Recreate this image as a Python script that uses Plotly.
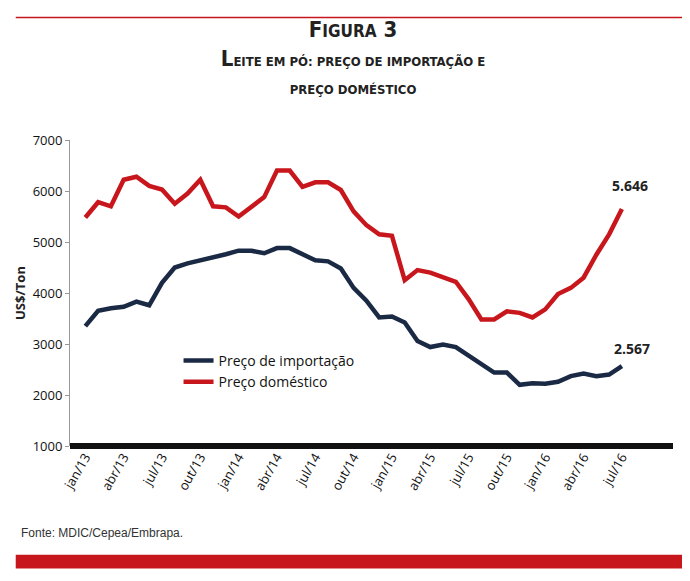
import plotly.graph_objects as go

# monthly series jan/13 .. jul/16
meses = ["jan", "fev", "mar", "abr", "mai", "jun", "jul", "ago", "set", "out", "nov", "dez"]
periodos = [f"{m}/{a}" for a in ["13", "14", "15", "16"] for m in meses][:43]

preco_importacao = [3350, 3650, 3700, 3730, 3830, 3760, 4200, 4500, 4580, 4640, 4680, 4760,
                    4830, 4830, 4780, 4880, 4880, 4760, 4640, 4620, 4480, 4100, 3850, 3520,
                    3540, 3420, 3060, 2940, 2990, 2940, 2780, 2620, 2440, 2440, 2200, 2230,
                    2220, 2260, 2370, 2420, 2370, 2400, 2567]
preco_domestico = [5480, 5780, 5700, 6220, 6280, 6100, 6030, 5750, 5950, 6220, 5700, 5680,
                   5500, 5680, 5880, 6400, 6400, 6080, 6170, 6170, 6020, 5600, 5330, 5150,
                   5120, 4250, 4450, 4400, 4320, 4220, 3880, 3480, 3480, 3640, 3610, 3520,
                   3680, 3980, 4100, 4300, 4750, 5150, 5646]
rotulos = periodos[::3]

fig = go.Figure()
fig.add_trace(go.Scatter(x=periodos, y=preco_importacao, mode="lines", name="Preço de importação",
                         line=dict(color="#1b2a44", width=4.5)))
fig.add_trace(go.Scatter(x=periodos, y=preco_domestico, mode="lines", name="Preço doméstico",
                         line=dict(color="#c8161d", width=4.5)))

fig.update_layout(
    width=690, height=581,
    paper_bgcolor="white", plot_bgcolor="white",
    margin=dict(l=62, r=25, t=132, b=143),
    font=dict(family="Open Sans", color="#222"),
    showlegend=True,
    legend=dict(x=0.18, y=0.33, xanchor="left", yanchor="top", font=dict(size=14, color="#111"),
                bgcolor="rgba(0,0,0,0)", tracegroupgap=8),
    title=dict(text="<b>F<span style='font-size:17px'>IGURA</span> 3</b><br>"
                    "<b>L<span style='font-size:13px'>EITE EM PÓ: PREÇO DE IMPORTAÇÃO E</span></b><br>"
                    "<b><span style='font-size:13px'>PREÇO DOMÉSTICO</span></b>",
               x=0.5, xanchor="center", y=0.95, yanchor="top",
               font=dict(family="DejaVu Sans Condensed", size=22, color="#222")),
    shapes=[
        dict(type="line", xref="paper", yref="paper", x0=-0.09, x1=1.035, y0=1.40, y1=1.40,
             line=dict(color="#c8161d", width=1.5)),
        dict(type="rect", xref="paper", yref="paper", x0=-0.09, x1=1.035, y0=-0.355, y1=-0.40,
             fillcolor="#c8161d", line=dict(width=0)),
        dict(type="line", xref="paper", yref="paper", x0=0, x1=1, y0=0, y1=0,
             line=dict(color="#111", width=6)),
    ],
    annotations=[
        dict(text="Fonte: MDIC/Cepea/Embrapa.", xref="paper", yref="paper", x=-0.085, y=-0.315,
             xanchor="left", showarrow=False, font=dict(family="Liberation Sans", size=12, color="#333")),
        dict(x=periodos[-1], y=preco_domestico[-1], text="<b>5.646</b>", showarrow=False,
             yshift=24, xshift=8, font=dict(size=14, color="#222")),
        dict(x=periodos[-1], y=preco_importacao[-1], text="<b>2.567</b>", showarrow=False,
             yshift=18, xshift=10, font=dict(size=14, color="#222")),
    ],
)
fig.update_yaxes(range=[1000, 7000], dtick=1000, showgrid=False, showline=True, linecolor="#999",
                 ticks="outside", ticklen=4, tickcolor="#999", tickformat="d",
                 tickfont=dict(size=13, family="Open Sans", color="#111"),
                 title=dict(text="<b>US$/Ton</b>", font=dict(size=13), standoff=4))
fig.update_xaxes(type="category", range=[-1.2, 46], tickmode="array", tickvals=rotulos, ticktext=rotulos,
                 tickangle=-60, showgrid=False, showline=False, ticks="",
                 tickfont=dict(size=13, family="Open Sans", color="#111"))

fig.write_html("out.html")
